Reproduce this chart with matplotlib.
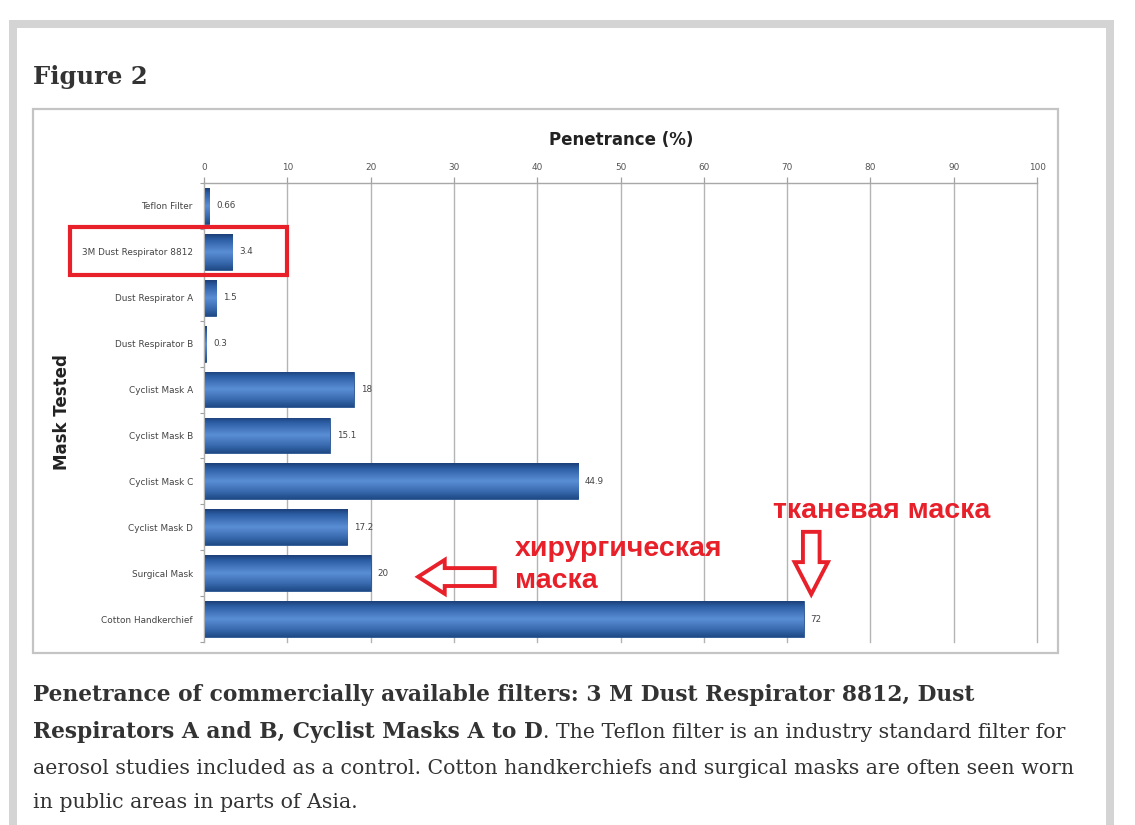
import numpy as np
import matplotlib
matplotlib.use("Agg")
import matplotlib.pyplot as plt
from matplotlib.patches import Rectangle, Polygon
from matplotlib.colors import LinearSegmentedColormap

# ---------------- data ----------------
categories = ["Teflon Filter", "3M Dust Respirator 8812", "Dust Respirator A",
              "Dust Respirator B", "Cyclist Mask A", "Cyclist Mask B",
              "Cyclist Mask C", "Cyclist Mask D", "Surgical Mask",
              "Cotton Handkerchief"]
penetrance = [0.66, 3.4, 1.5, 0.3, 18, 15.1, 44.9, 17.2, 20, 72]
xticks = [0, 10, 20, 30, 40, 50, 60, 70, 80, 90, 100]

W, H = 1135, 825
fig = plt.figure(figsize=(W / 100, H / 100), dpi=100)
fig.patch.set_facecolor("white")

def fx(x): return x / W
def fy(y): return 1 - y / H

# page border
fig.patches.append(Rectangle((fx(9), fy(830)), fx(1114) - fx(9), fy(20) - fy(830),
                             transform=fig.transFigure, facecolor="#d4d4d4",
                             edgecolor="none", zorder=-3))
fig.patches.append(Rectangle((fx(17), fy(830)), fx(1106) - fx(17), fy(28) - fy(830),
                             transform=fig.transFigure, facecolor="white",
                             edgecolor="none", zorder=-2))
# chart box
fig.patches.append(Rectangle((fx(33), fy(653)), fx(1058) - fx(33), fy(109) - fy(653),
                             transform=fig.transFigure, facecolor="white",
                             edgecolor="#c4c4c4", linewidth=1.6, zorder=-1))

fig.text(fx(33), fy(77), "Figure 2", family="DejaVu Serif", fontweight="bold",
         fontsize=17.5, color="#333333", ha="left", va="center")

# axes
ax = fig.add_axes([fx(204), fy(642), fx(1037) - fx(204), fy(183) - fy(642)])
ax.set_zorder(3)
ax.set_facecolor("none")
ypos = np.arange(len(categories))
bh = 0.78
bars = ax.barh(ypos, penetrance, height=bh, color="#3a6db5",
               edgecolor="#27528f", linewidth=0.6, zorder=2)

cmap = LinearSegmentedColormap.from_list(
    "bar", [(0, "#1b3f78"), (0.15, "#2d5fa6"), (0.5, "#5a8ed5"),
            (0.8, "#3869ae"), (1, "#1f4a86")])
grad = np.linspace(0, 1, 64).reshape(-1, 1)
for b, y, v in zip(bars, ypos, penetrance):
    im = ax.imshow(grad, cmap=cmap, aspect="auto", interpolation="bicubic",
                   extent=[0, v, y + bh / 2, y - bh / 2], zorder=2.5)
    im.set_clip_path(b)

ax.set_xlim(0, 100)
ax.set_ylim(len(categories) - 0.5, -0.5)

for y, v in zip(ypos, penetrance):
    ax.annotate(f"{v:g}", (v, y), xytext=(5, 0), textcoords="offset points",
                ha="left", va="center", fontsize=6.3, color="#444444",
                family="DejaVu Sans")

ax.xaxis.tick_top()
ax.set_xticks(xticks)
ax.set_xticklabels([str(t) for t in xticks], fontsize=6.4, color="#555555")
ax.tick_params(axis="x", length=4, width=0.9, color="#a0a0a0", pad=4)
ax.grid(axis="x", color="#b4b4b4", linewidth=1.0, zorder=0)
for gl in ax.get_xgridlines():
    gl.set_clip_on(False)
ax.set_axisbelow(True)

ax.set_yticks(ypos)
ax.set_yticklabels(categories, fontsize=6.4, color="#444444")
ax.set_yticks(np.arange(-0.5, len(categories), 1), minor=True)
ax.tick_params(axis="y", which="major", length=0, pad=8)
ax.tick_params(axis="y", which="minor", length=3, width=0.8, color="#a0a0a0")

for s in ["right", "bottom"]:
    ax.spines[s].set_visible(False)
ax.spines["top"].set_color("#a8a8a8")
ax.spines["top"].set_linewidth(1.0)
ax.spines["left"].set_color("#b0b0b0")
ax.spines["left"].set_linewidth(0.8)

fig.text(fx(621), fy(140), "Penetrance (%)", fontsize=12, fontweight="bold",
         color="#222222", ha="center", va="center")
fig.text(fx(62), fy(412), "Mask Tested", fontsize=12, fontweight="bold",
         color="#222222", ha="center", va="center", rotation=90)

# ---------------- annotations ----------------
red = "#e8202a"
rect = Rectangle((-16.1, 0.46), 26.1, 1.04, fill=False, edgecolor=red,
                 linewidth=3, clip_on=False, zorder=5)
ax.add_patch(rect)

left_arrow = Polygon([(25.7, 8.08), (28.9, 7.71), (28.9, 7.89), (34.9, 7.89),
                      (34.9, 8.28), (28.9, 8.28), (28.9, 8.45)], closed=True,
                     fill=False, edgecolor=red, linewidth=2.8, clip_on=False,
                     zorder=5, joinstyle="miter")
ax.add_patch(left_arrow)
down_arrow = Polygon([(71.9, 7.10), (73.9, 7.10), (73.9, 7.76), (74.9, 7.76),
                      (72.9, 8.46), (70.9, 7.76), (71.9, 7.76)], closed=True,
                     fill=False, edgecolor=red, linewidth=2.8, clip_on=False,
                     zorder=5, joinstyle="miter")
ax.add_patch(down_arrow)

red_fs = 20.5
fig.text(fx(773), fy(511), "тканевая маска", family="Liberation Sans",
         fontweight="bold", fontsize=red_fs, color=red, ha="left", va="center",
         zorder=6)
fig.text(fx(515), fy(549), "хирургическая", family="Liberation Sans",
         fontweight="bold", fontsize=red_fs, color=red, ha="left", va="center",
         zorder=6)
fig.text(fx(515), fy(581), "маска", family="Liberation Sans",
         fontweight="bold", fontsize=red_fs, color=red, ha="left", va="center",
         zorder=6)

# ---------------- caption ----------------
renderer = fig.canvas.get_renderer()
cap_col = "#333333"

def fit_size(txt, weight, target_px):
    t = fig.text(0, 0, txt, family="DejaVu Serif", fontweight=weight, fontsize=14)
    w = t.get_window_extent(renderer).width
    t.remove()
    return 14 * target_px / w

bold_fs = fit_size("Penetrance of commercially available filters: 3 M Dust Respirator 8812, Dust",
                   "bold", 976 - 33)
reg_fs = fit_size("aerosol studies included as a control. Cotton handkerchiefs and surgical masks are often seen worn",
                  "normal", 1076 - 33)

fig.text(fx(33), fy(695), "Penetrance of commercially available filters: 3 M Dust Respirator 8812, Dust",
         family="DejaVu Serif", fontweight="bold", fontsize=bold_fs, color=cap_col,
         ha="left", va="center")
t2 = fig.text(fx(33), fy(732), "Respirators A and B, Cyclist Masks A to D",
              family="DejaVu Serif", fontweight="bold", fontsize=bold_fs, color=cap_col,
              ha="left", va="center")
w2 = t2.get_window_extent(renderer).width
fig.text(fx(33 + w2), fy(732), ". The Teflon filter is an industry standard filter for",
         family="DejaVu Serif", fontsize=reg_fs, color=cap_col, ha="left", va="center")
fig.text(fx(33), fy(768), "aerosol studies included as a control. Cotton handkerchiefs and surgical masks are often seen worn",
         family="DejaVu Serif", fontsize=reg_fs, color=cap_col, ha="left", va="center")
fig.text(fx(33), fy(803), "in public areas in parts of Asia.",
         family="DejaVu Serif", fontsize=reg_fs, color=cap_col, ha="left", va="center")

fig.savefig("out.png", dpi=100, facecolor="white")
